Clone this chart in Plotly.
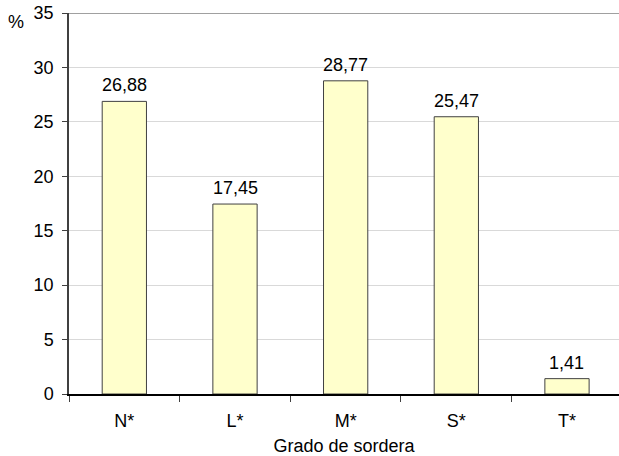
import plotly.graph_objects as go

# Porcentaje por grado de sordera
categorias = ["N*", "L*", "M*", "S*", "T*"]
porcentajes = [26.88, 17.45, 28.77, 25.47, 1.41]
y_ticks = [0, 5, 10, 15, 20, 25, 30, 35]

FONT = "Liberation Sans, Arial, sans-serif"
FS = 18

fig = go.Figure()
fig.add_trace(go.Bar(
    x=categorias,
    y=porcentajes,
    width=0.4,
    marker=dict(color="#FFFFCC", line=dict(color="#404040", width=1)),
    hoverinfo="skip",
))

# Etiquetas de valor sobre cada barra
for c, v in zip(categorias, porcentajes):
    fig.add_annotation(
        x=c, y=v, text=f"{v:.2f}".replace(".", ","),
        showarrow=False, yanchor="bottom", yshift=4,
        font=dict(family=FONT, size=FS, color="black"),
    )

# Símbolo de unidades del eje vertical
fig.add_annotation(
    xref="paper", yref="paper", x=-0.097, y=0.977, text="%",
    showarrow=False, xanchor="center", yanchor="middle",
    font=dict(family=FONT, size=FS, color="black"),
)

# Borde superior del área de trazado
fig.add_shape(type="line", xref="paper", yref="y", x0=0, x1=1, y0=35, y1=35,
              line=dict(color="#808080", width=1.5), layer="above")

fig.update_layout(
    width=619, height=456,
    margin=dict(l=69, r=0, t=13, b=62),
    paper_bgcolor="white", plot_bgcolor="white",
    showlegend=False,
    separators=",.",
    font=dict(family=FONT, size=FS, color="black"),
    xaxis=dict(
        type="category",
        range=[-0.5, 4.47],
        tickson="boundaries",
        ticks="outside", ticklen=6, tickcolor="#404040",
        ticklabelstandoff=10,
        showline=True, linecolor="black", linewidth=1.5,
        showgrid=False,
        tickfont=dict(family=FONT, size=FS, color="black"),
        title=dict(text="Grado de sordera", standoff=10,
                   font=dict(family=FONT, size=FS, color="black")),
    ),
    yaxis=dict(
        range=[0, 35],
        tickvals=y_ticks,
        ticks="outside", ticklen=5, tickcolor="#404040",
        ticklabelstandoff=5,
        showline=True, linecolor="#404040", linewidth=1.5,
        showgrid=True, gridcolor="#D9D9D9", gridwidth=1,
        zeroline=False,
        tickfont=dict(family=FONT, size=FS, color="black"),
    ),
)

fig.write_html("out.html")
